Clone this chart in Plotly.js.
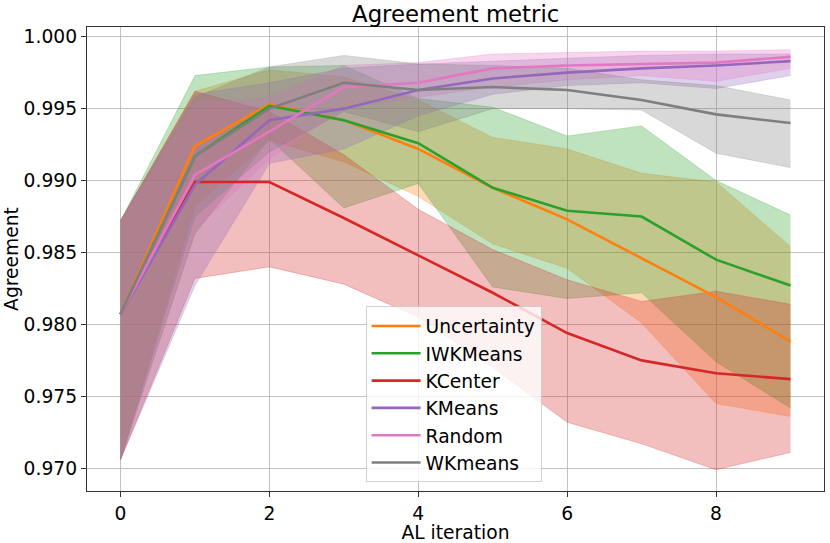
<!DOCTYPE html>
<html>
<head>
<meta charset="utf-8">
<script src="https://cdn.plot.ly/plotly-3.0.1.min.js"></script>
<style>html,body{margin:0;padding:0;background:#fff;}#chart{width:830px;height:543px;}</style>
</head>
<body>
<div id="chart"></div>
<script>
const iterations = [0, 1, 2, 3, 4, 5, 6, 7, 8, 9];

const uncertaintyMean  = [0.9807, 0.9924, 0.9953, 0.9942, 0.9922, 0.9895, 0.9873, 0.9846, 0.9819, 0.9788];
const uncertaintyUpper = [0.9872, 0.9962, 0.9977, 0.9972, 0.9956, 0.9930, 0.9922, 0.9905, 0.9899, 0.9854];
const uncertaintyLower = [0.9706, 0.9882, 0.9928, 0.9913, 0.9889, 0.9856, 0.9839, 0.9801, 0.9745, 0.9736];

const iwkmeansMean  = [0.9807, 0.9917, 0.9952, 0.9942, 0.9926, 0.9895, 0.9879, 0.9875, 0.9845, 0.9827];
const iwkmeansUpper = [0.9872, 0.9973, 0.9979, 0.9980, 0.9957, 0.9951, 0.9931, 0.9938, 0.9900, 0.9876];
const iwkmeansLower = [0.9706, 0.9863, 0.9929, 0.9881, 0.9898, 0.9826, 0.9818, 0.9822, 0.9774, 0.9742];

const kcenterMean  = [0.9807, 0.9899, 0.9899, 0.9874, 0.9848, 0.9822, 0.9794, 0.9775, 0.9766, 0.9762];
const kcenterUpper = [0.9872, 0.9962, 0.9948, 0.9918, 0.9880, 0.9852, 0.9831, 0.9816, 0.9823, 0.9814];
const kcenterLower = [0.9706, 0.9832, 0.9840, 0.9828, 0.9805, 0.9770, 0.9732, 0.9717, 0.9699, 0.9711];

const kmeansMean  = [0.9807, 0.9897, 0.9942, 0.9950, 0.9963, 0.9971, 0.9975, 0.9978, 0.9980, 0.9983];
const kmeansUpper = [0.9872, 0.9960, 0.9968, 0.9978, 0.9981, 0.9983, 0.9985, 0.9987, 0.9988, 0.9988];
const kmeansLower = [0.9706, 0.9827, 0.9912, 0.9922, 0.9945, 0.9960, 0.9966, 0.9968, 0.9964, 0.9973];

const randomMean  = [0.9807, 0.9904, 0.9934, 0.9965, 0.9968, 0.9978, 0.9980, 0.9981, 0.9982, 0.9986];
const randomUpper = [0.9872, 0.9954, 0.9958, 0.9980, 0.9982, 0.9988, 0.9989, 0.9990, 0.9990, 0.9991];
const randomLower = [0.9706, 0.9866, 0.9915, 0.9950, 0.9958, 0.9965, 0.9970, 0.9973, 0.9969, 0.9978];

const wkmeansMean  = [0.9807, 0.9917, 0.9950, 0.9968, 0.9963, 0.9965, 0.9963, 0.9956, 0.9946, 0.9940];
const wkmeansUpper = [0.9872, 0.9958, 0.9979, 0.9987, 0.9981, 0.9980, 0.9978, 0.9970, 0.9966, 0.9956];
const wkmeansLower = [0.9706, 0.9875, 0.9920, 0.9948, 0.9934, 0.9950, 0.9950, 0.9949, 0.9919, 0.9909];

const yTicks = [0.970, 0.975, 0.980, 0.985, 0.990, 0.995, 1.000];
const xTicks = [0, 2, 4, 6, 8];

const series = [
  {name: 'Uncertainty', mean: uncertaintyMean, upper: uncertaintyUpper, lower: uncertaintyLower, rgb: '255,127,14'},
  {name: 'IWKMeans', mean: iwkmeansMean, upper: iwkmeansUpper, lower: iwkmeansLower, rgb: '44,160,44'},
  {name: 'KCenter', mean: kcenterMean, upper: kcenterUpper, lower: kcenterLower, rgb: '214,39,40'},
  {name: 'KMeans', mean: kmeansMean, upper: kmeansUpper, lower: kmeansLower, rgb: '148,103,189'},
  {name: 'Random', mean: randomMean, upper: randomUpper, lower: randomLower, rgb: '227,119,194'},
  {name: 'WKmeans', mean: wkmeansMean, upper: wkmeansUpper, lower: wkmeansLower, rgb: '127,127,127'}
];

const traces = [];
series.forEach(s => {
  traces.push({x: iterations, y: s.lower, type: 'scatter', mode: 'lines',
    line: {color: 'rgba(' + s.rgb + ',0.3)', width: 0.8}, showlegend: false, hoverinfo: 'skip'});
  traces.push({x: iterations, y: s.upper, type: 'scatter', mode: 'lines', fill: 'tonexty',
    fillcolor: 'rgba(' + s.rgb + ',0.3)',
    line: {color: 'rgba(' + s.rgb + ',0.3)', width: 0.8}, showlegend: false, hoverinfo: 'skip'});
});
series.forEach(s => {
  traces.push({x: iterations, y: s.mean, type: 'scatter', mode: 'lines', name: s.name,
    legendgroup: s.name, line: {color: 'rgb(' + s.rgb + ')', width: 2.6}});
});

const font = {family: 'DejaVu Sans, sans-serif', size: 18.7, color: '#000'};

const layout = {
  width: 830, height: 543,
  margin: {l: 87, r: 6, t: 27, b: 52},
  paper_bgcolor: '#fff', plot_bgcolor: '#fff',
  font: font,
  title: {text: 'Agreement metric', font: {family: 'DejaVu Sans, sans-serif', size: 22.8, color: '#000'},
    x: 0.549, xanchor: 'center', y: 0.975, yanchor: 'middle'},
  xaxis: {
    range: [-0.45, 9.45], tickvals: xTicks, ticktext: xTicks.map(String),
    showgrid: true, gridcolor: '#b0b0b0', gridwidth: 0.8, zeroline: false,
    showline: true, linecolor: '#333', linewidth: 1.2, mirror: true,
    ticks: 'outside', ticklen: 5, tickcolor: '#333', tickfont: font,
    title: {text: 'AL iteration', font: font, standoff: 0}
  },
  yaxis: {
    range: [0.96842, 1.000675], tickvals: yTicks, ticktext: yTicks.map(v => v.toFixed(3)),
    showgrid: true, gridcolor: '#b0b0b0', gridwidth: 0.8, zeroline: false,
    showline: true, linecolor: '#333', linewidth: 1.2, mirror: true,
    ticks: 'outside', ticklen: 5, tickcolor: '#333', tickfont: font,
    title: {text: 'Agreement', font: font, standoff: 0}
  },
  legend: {
    x: 0.378, y: 0.398, xanchor: 'left', yanchor: 'top',
    bgcolor: 'rgba(255,255,255,0.8)', bordercolor: 'rgba(204,204,204,0.9)', borderwidth: 1,
    font: font, traceorder: 'grouped', tracegroupgap: 0, itemwidth: 49
  },
  showlegend: true
};

Plotly.newPlot('chart', traces, layout, {displayModeBar: false, staticPlot: true});
</script>
</body>
</html>
